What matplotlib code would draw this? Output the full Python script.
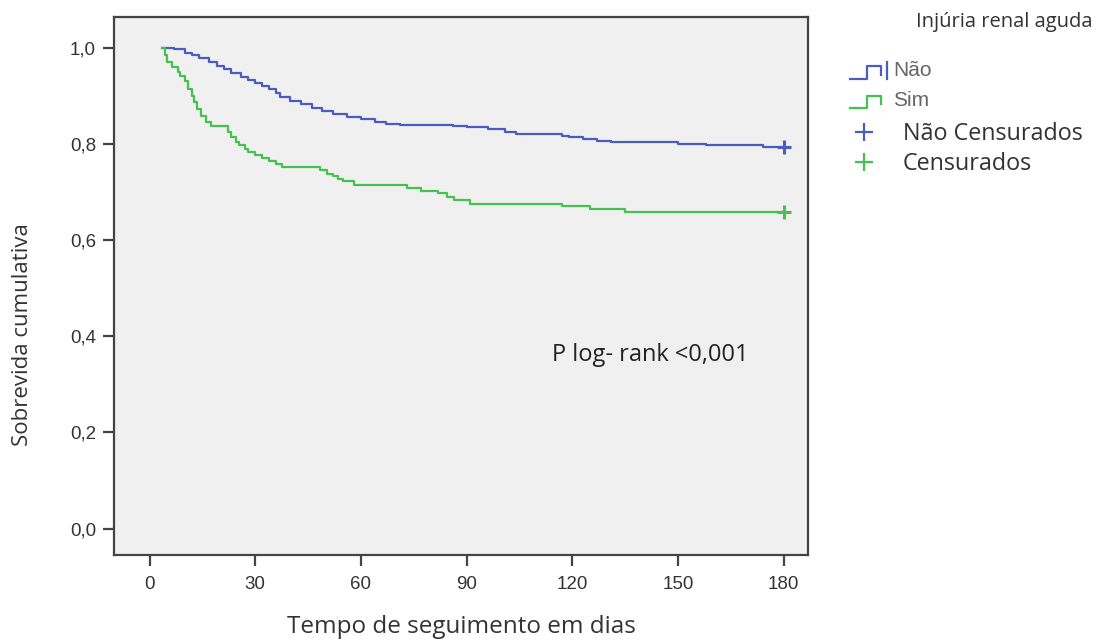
import numpy as np
import matplotlib
matplotlib.use("Agg")
import matplotlib.pyplot as plt
from matplotlib.lines import Line2D

# Kaplan-Meier steps (days, cumulative survival)
nao_t = [3.5, 7, 10, 12, 14, 17, 19, 21, 23, 26, 28, 30, 32, 34, 36, 37, 40, 43,
         46, 49, 52, 56, 60, 64, 67, 71, 86, 90, 96, 101, 104, 117, 119, 123,
         127, 131, 150, 158, 166, 174]
nao_s = [1.0, 0.997, 0.99, 0.985, 0.978, 0.97, 0.963, 0.955, 0.948, 0.94, 0.932,
         0.926, 0.92, 0.915, 0.905, 0.897, 0.89, 0.883, 0.875, 0.868, 0.862,
         0.857, 0.852, 0.846, 0.842, 0.84, 0.838, 0.835, 0.832, 0.825, 0.82,
         0.817, 0.814, 0.81, 0.807, 0.803, 0.8, 0.798, 0.797, 0.794]
sim_t = [3.5, 4.5, 5, 6.5, 8, 8.5, 10, 11, 12, 12.5, 13.5, 14.5, 16, 17.5, 22.3,
         23, 24.5, 25.5, 27, 28, 30, 32, 34, 36, 37.5, 48.5, 50.5, 52, 53.5, 55,
         58, 73, 77, 82, 84.5, 86.5, 91, 117, 125, 135]
sim_s = [1.0, 0.985, 0.97, 0.96, 0.95, 0.942, 0.93, 0.915, 0.9, 0.887, 0.872,
         0.859, 0.845, 0.838, 0.825, 0.815, 0.805, 0.797, 0.79, 0.783, 0.776,
         0.77, 0.765, 0.759, 0.752, 0.745, 0.738, 0.733, 0.727, 0.722, 0.714,
         0.709, 0.703, 0.697, 0.689, 0.683, 0.676, 0.67, 0.664, 0.658]
end_day = 180

groups = ["Não", "Sim"]
censor_labels = ["Não Censurados", "Censurados"]
x_ticks = [0, 30, 60, 90, 120, 150, 180]
y_ticks = [0.0, 0.2, 0.4, 0.6, 0.8, 1.0]

BLUE = "#4a5cbf"
GREEN = "#45c150"
TXT = "#333333"
AXC = "#444444"
FONT = "Open Sans"
W, H = 1102, 642

fig = plt.figure(figsize=(W / 100, H / 100), dpi=100)
ax = fig.add_axes([114 / W, 1 - 555 / H, (808 - 114) / W, (555 - 17) / H])
ax.set_facecolor("#f0f0f0")

for t, s, c in [(nao_t, nao_s, BLUE), (sim_t, sim_s, GREEN)]:
    ax.step(t + [end_day], s + [s[-1]], where="post", color=c, lw=1.6)
    ax.plot([end_day], [s[-1]], marker="+", ms=10, mew=2.2, color=c, ls="none")

ax.set_xlim(-10.1, 186.9)
ax.set_ylim(-0.055, 1.064)
ax.set_xticks(x_ticks)
ax.set_yticks(y_ticks)
ax.set_yticklabels([f"{v:.1f}".replace(".", ",") for v in y_ticks])
for sp in ax.spines.values():
    sp.set_color(AXC)
    sp.set_linewidth(1.6)
ax.tick_params(length=8, width=1.6, color=AXC, labelcolor=TXT, labelsize=13.5)
ax.tick_params(axis="x", pad=7)
ax.tick_params(axis="y", pad=5)
for lab in ax.get_xticklabels() + ax.get_yticklabels():
    lab.set_fontfamily("Liberation Sans")

ax.set_xlabel("Tempo de seguimento em dias", fontsize=17.5, family=FONT,
              color=TXT, labelpad=16)
ax.set_ylabel("Sobrevida cumulativa", fontsize=16, family=FONT, color=TXT)
ax.yaxis.set_label_coords(-0.116, 0.409)
ax.text(114.3, 0.361, "P log- rank <0,001", fontsize=17, family=FONT,
        color="#222222", va="center", ha="left")


def fx(x):
    return x / W


def fy(y):
    return 1 - y / H


# legend drawn at the right, outside the axes
fig.text(fx(1004), fy(22), "Injúria renal aguda", fontsize=14.5, family=FONT,
         color=TXT, ha="center", va="center")
icons = [(79, 66, 70, BLUE), (108, 96, 100, GREEN)]
for name, (b, t, ty, c) in zip(groups, icons):
    fig.add_artist(Line2D([fx(850), fx(867), fx(867), fx(881), fx(881)],
                          [fy(b), fy(b), fy(t), fy(t), fy(b - 4)],
                          color=c, lw=1.6))
    if name == "Não":
        fig.add_artist(Line2D([fx(887), fx(887)], [fy(t - 4), fy(b)],
                              color=c, lw=1.6))
    fig.text(fx(893), fy(ty), name, fontsize=15, family="Liberation Sans",
             color="#666666", ha="left", va="center")
for name, yy, c in zip(censor_labels, [132, 162], [BLUE, GREEN]):
    fig.add_artist(Line2D([fx(864)], [fy(yy)], marker="+", ms=13, mew=1.6,
                          color=c, ls="none"))
    fig.text(fx(903), fy(yy + 2), name, fontsize=16.8, family=FONT,
             color=TXT, ha="left", va="center")

fig.savefig("out.png", dpi=100, facecolor="white")
